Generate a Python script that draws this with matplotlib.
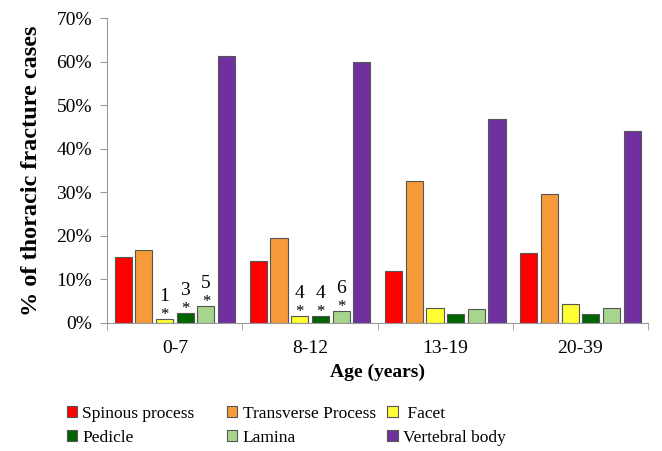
import matplotlib.pyplot as plt
import numpy as np

plt.rcParams['font.family'] = ['Liberation Serif', 'DejaVu Serif']

ages = ['0-7', '8-12', '13-19', '20-39']
parts = ['Spinous process', 'Transverse Process', ' Facet', 'Pedicle', 'Lamina', 'Vertebral body']
colors = ['#FF0000', '#F79A3A', '#FFFF33', '#006400', '#A8D58E', '#7030A0']

spinous = [15.2, 14.2, 11.9, 16.0]
transverse = [16.7, 19.6, 32.6, 29.7]
facet = [0.8, 1.6, 3.4, 4.3]
pedicle = [2.3, 1.6, 2.0, 2.1]
lamina = [3.8, 2.7, 3.1, 3.5]
vertebral = [61.3, 59.8, 46.9, 44.1]
series = [spinous, transverse, facet, pedicle, lamina, vertebral]

# small-count annotations: (group, bar index, count)
notes = [(0, 2, '1'), (0, 3, '3'), (0, 4, '5'),
         (1, 2, '4'), (1, 3, '4'), (1, 4, '6')]

fig = plt.figure(figsize=(6.62, 4.51), dpi=100)
ax = fig.add_axes([0.162, 0.284, 0.817, 0.676])

x = np.arange(len(ages))
slot = 0.153
width = 0.127
bars = []
for i, (vals, c, name) in enumerate(zip(series, colors, parts)):
    b = ax.bar(x + (i - 2.5) * slot, vals, width, color=c, edgecolor='#555555',
               linewidth=0.8, label=name)
    bars.append(b)

for g, i, n in notes:
    xp = x[g] + (i - 2.5) * slot
    v = series[i][g]
    ax.text(xp, v + 1.0, '*', ha='center', va='center', fontsize=12)
    ax.text(xp, v + 4.2, n, ha='center', va='baseline', fontsize=14)

ax.set_xlim(-0.5, 3.5)
ax.set_ylim(0, 70)
ax.set_yticks(range(0, 71, 10))
ax.set_yticklabels([f'{v}%' for v in range(0, 71, 10)], fontsize=14)
ax.set_xticks(x)
ax.set_xticklabels(ages, fontsize=14)
ax.set_xticks(np.arange(-0.5, 4, 1), minor=True)
ax.tick_params(axis='x', which='major', length=0, pad=12)
ax.tick_params(axis='x', which='minor', length=5, color='#999999')
ax.tick_params(axis='y', length=5, color='#999999', pad=6)
for s in ['top', 'right']:
    ax.spines[s].set_visible(False)
for s in ['left', 'bottom']:
    ax.spines[s].set_color('#999999')

ax.set_ylabel('% of thoracic fracture cases', fontsize=17.5, fontweight='bold', labelpad=10)
ax.set_xlabel('Age (years)', fontsize=14, fontweight='bold', labelpad=5)

# three legend columns placed separately
col_x = [0.101, 0.343, 0.585]
for j, cx in enumerate(col_x):
    idx = [j, j + 3]
    fig.legend([bars[k] for k in idx], [parts[k] for k in idx],
               loc='upper left', bbox_to_anchor=(cx, 0.1), frameon=False,
               fontsize=12.5, handlelength=0.6, handleheight=0.6, handletextpad=0.3,
               labelspacing=0.45, borderaxespad=0, borderpad=0)

fig.savefig('out.png', dpi=100)
